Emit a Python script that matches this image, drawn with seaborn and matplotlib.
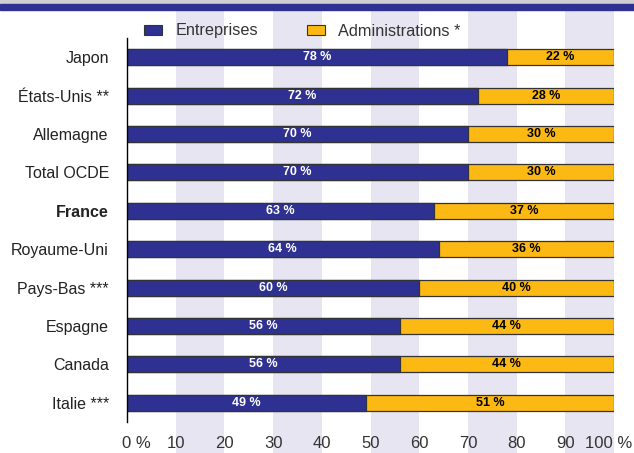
import matplotlib
matplotlib.use("Agg")
import matplotlib.pyplot as plt
import seaborn as sns
import pandas as pd
from matplotlib.patches import Rectangle
from matplotlib.ticker import FixedLocator
from matplotlib.transforms import ScaledTranslation

# data
pays = ["Japon", "États-Unis **", "Allemagne", "Total OCDE", "France",
        "Royaume-Uni", "Pays-Bas ***", "Espagne", "Canada", "Italie ***"]
entreprises = [78, 72, 70, 70, 63, 64, 60, 56, 56, 49]
administrations = [22, 28, 30, 30, 37, 36, 40, 44, 44, 51]
xticks = [0, 10, 20, 30, 40, 50, 60, 70, 80, 90, 100]
xticklabels = ["0 %", "10", "20", "30", "40", "50", "60", "70", "80", "90", "100 %"]

BLUE = "#2e3192"
YELLOW = "#fdb913"
SHADE = "#e7e5f1"
TXT = "#333333"

sns.set_style("white")
plt.rcParams['font.family'] = ['Liberation Sans', 'DejaVu Sans']

df = pd.DataFrame({"pays": pays, "ent": entreprises,
                   "total": [e + a for e, a in zip(entreprises, administrations)]})

W, H = 634, 453
fig = plt.figure(figsize=(W / 100, H / 100), dpi=100)

x0, x1 = 127 / W, 614 / W
# axes top / bottom in figure fraction (pixel rows 38 and 422 from top)
y_top, y_bot = 1 - 38 / H, 1 - 422 / H

# top band: grey strip + blue rule
fig.patches.append(Rectangle((0, 1 - 4 / H), 1, 4 / H, transform=fig.transFigure,
                             color="#cfcfd4", zorder=0))
fig.patches.append(Rectangle((0, 1 - 10 / H), 1, 6 / H, transform=fig.transFigure,
                             color=BLUE, zorder=0))

# shaded vertical bands behind everything
bg = fig.add_axes([x0, 0, x1 - x0, 1 - 10 / H], zorder=0)
bg.set_xlim(0, 100)
bg.axis("off")
for start in range(10, 100, 20):
    bg.axvspan(start, start + 10, color=SHADE, lw=0)

ax = fig.add_axes([x0, y_bot, x1 - x0, y_top - y_bot], zorder=1)
ax.patch.set_alpha(0)

sns.barplot(data=df, y="pays", x="total", orient="h", color=YELLOW, width=0.42,
            edgecolor="#333333", linewidth=0.9, saturation=1, ax=ax)
sns.barplot(data=df, y="pays", x="ent", orient="h", color=BLUE, width=0.42,
            edgecolor="#333333", linewidth=0.9, saturation=1, ax=ax)

for i, (e, a) in enumerate(zip(entreprises, administrations)):
    ax.text(e / 2, i, f"{e} %", ha="center", va="center", color="white",
            fontsize=9, fontweight="bold")
    ax.text(e + a / 2, i, f"{a} %", ha="center", va="center", color="black",
            fontsize=9, fontweight="bold")

ax.set_xlim(0, 100)
ax.set_ylim(len(pays) - 0.5, -0.5)
ax.set_xlabel("")
ax.set_ylabel("")
ax.set_xticks(xticks)
ax.set_xticklabels(xticklabels, fontsize=12, color=TXT)
ax.tick_params(axis="x", length=0, pad=10)
ax.tick_params(axis="y", which="major", length=0, pad=13, labelsize=11.5,
               labelcolor="#222222")
ax.yaxis.set_minor_locator(FixedLocator([i - 0.5 for i in range(len(pays) + 1)]))
ax.tick_params(axis="y", which="minor", length=4, width=1, color="black", direction="out")
for lbl in ax.get_yticklabels():
    if lbl.get_text() == "France":
        lbl.set_fontweight("bold")

# "0 %" and "100 %" sit off-centre in the original
xl = ax.get_xticklabels()
xl[0].set_transform(xl[0].get_transform() + ScaledTranslation(9 / 100, 0, fig.dpi_scale_trans))
xl[-1].set_transform(xl[-1].get_transform() + ScaledTranslation(-5 / 100, 0, fig.dpi_scale_trans))

for s in ["top", "right", "bottom"]:
    ax.spines[s].set_visible(False)
ax.spines["left"].set_color("black")
ax.spines["left"].set_linewidth(1)

handles = [Rectangle((0, 0), 1, 1, facecolor=BLUE, edgecolor="#333333", lw=0.8),
           Rectangle((0, 0), 1, 1, facecolor=YELLOW, edgecolor="#333333", lw=0.8)]
fig.legend(handles, ["Entreprises", "Administrations *"], ncol=2, frameon=False,
           loc="center left", bbox_to_anchor=(133 / W, 1 - 31 / H),
           fontsize=11.7, handlelength=1.1, handleheight=0.6, columnspacing=3.0,
           handletextpad=0.8, labelcolor=TXT, borderpad=0.2)

fig.savefig("out.png", dpi=100)
